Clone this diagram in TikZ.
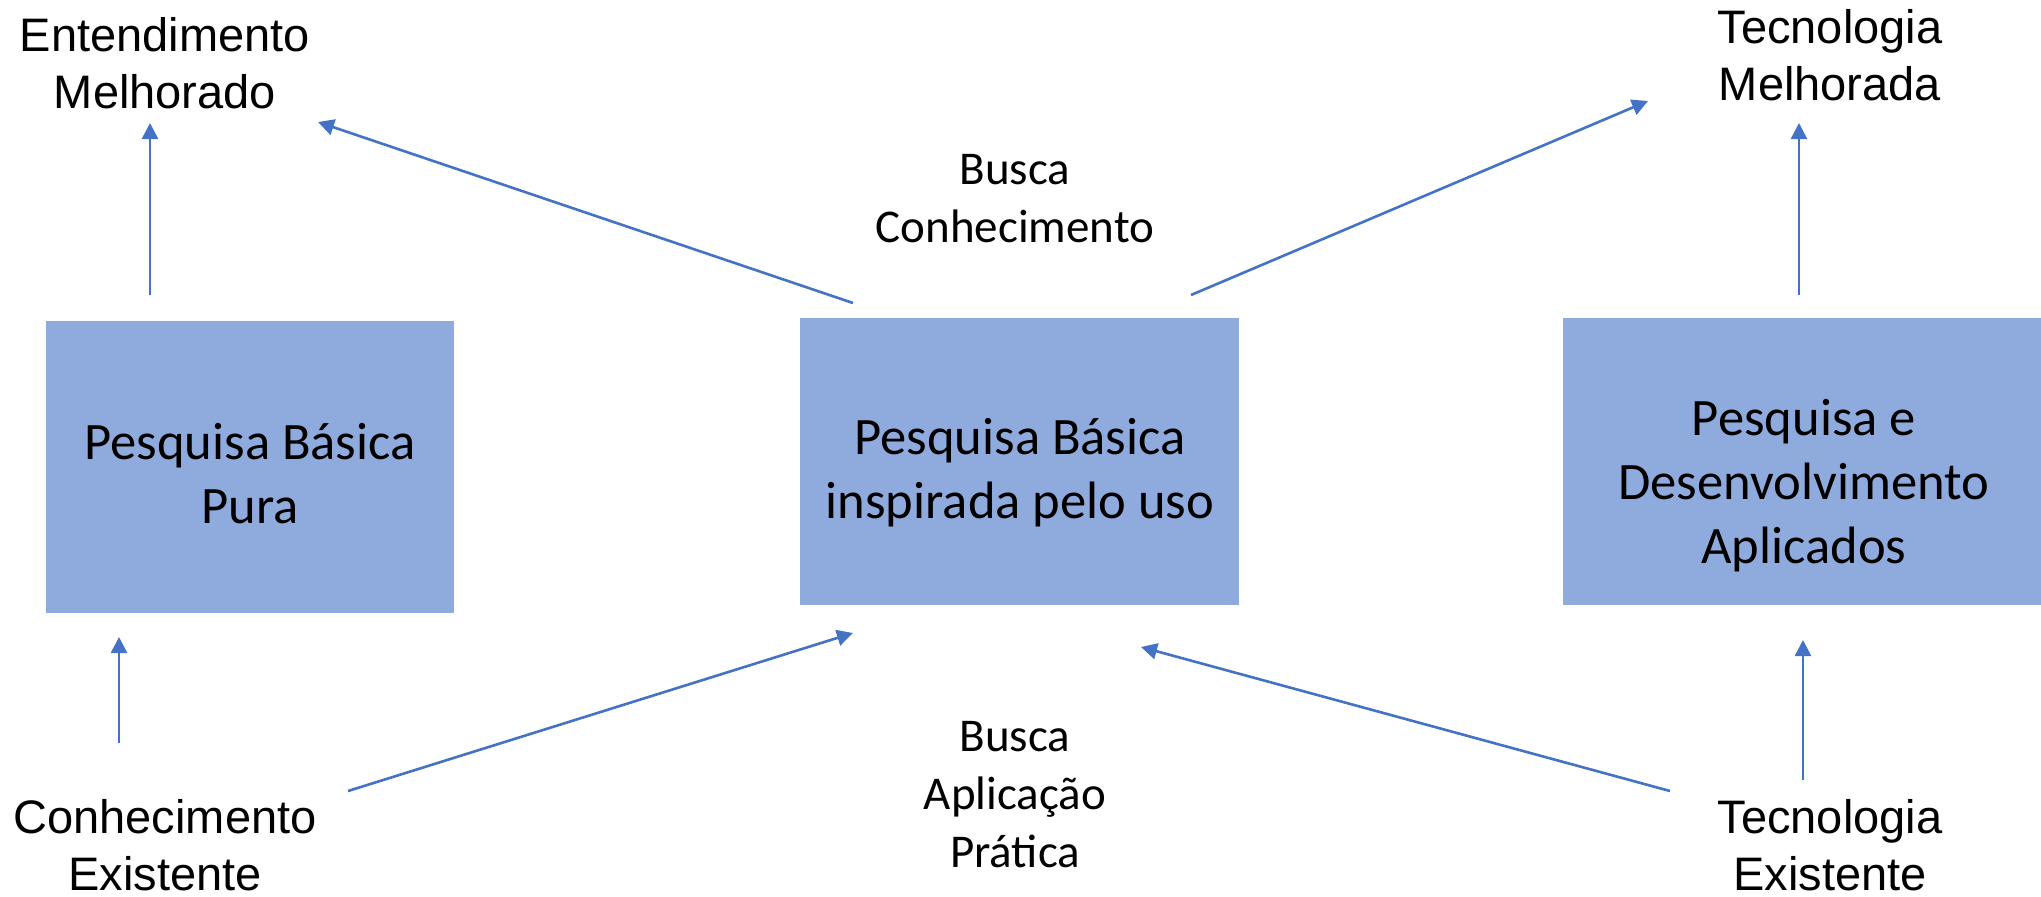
\documentclass[tikz,border=0pt]{standalone}
\usepackage{fontspec}
\newfontfamily\arialf{Liberation Sans}
\newfontfamily\calibf{Carlito}
\usetikzlibrary{arrows.meta}
\definecolor{boxblue}{HTML}{8FAADC}
\definecolor{arrowblue}{HTML}{4472C4}
\begin{document}
\begin{tikzpicture}[x=0.5pt,y=-0.5pt,
  box/.style={draw=none, fill=boxblue, rectangle, inner sep=0pt, outer sep=0pt},
  boxtext/.style={align=center, inner sep=0pt, anchor=base, font=\calibf\fontsize{26.3pt}{32pt}\selectfont},
  outer/.style={align=center, inner sep=0pt, anchor=base, font=\arialf\fontsize{23.5pt}{28.5pt}\selectfont},
  midlabel/.style={align=center, inner sep=0pt, anchor=base, font=\calibf\fontsize{23.5pt}{29pt}\selectfont},
  link/.style={draw=arrowblue, line width=1.3pt, -{Triangle[length=8pt,width=8pt]}}]
\useasboundingbox (0,0) rectangle (2041,896);
% boxes
\node[box, minimum width=204pt, minimum height=146pt] (b1) at (250,467) {};
\node[box, minimum width=219.5pt, minimum height=143.5pt] (b2) at (1019.5,461.5) {};
\node[box, minimum width=241pt, minimum height=143.5pt] (b3) at (1804,461.5) {};
% box texts (anchored at the baseline of the last line)
\node[boxtext] (t1) at (250,523.5) {Pesquisa Básica\\Pura};
\node[boxtext] (t2) at (1020,518) {Pesquisa Básica\\inspirada pelo uso};
\node[boxtext] (t3) at (1804,563) {Pesquisa e\\Desenvolvimento\\Aplicados};
% outer labels
\node[outer] (em) at (165,108) {Entendimento\\Melhorado};
\node[outer] (tm) at (1830,100) {Tecnologia\\Melhorada};
\node[outer] (ce) at (165,890) {Conhecimento\\Existente};
\node[outer] (te) at (1830,890) {Tecnologia\\Existente};
% middle labels
\node[midlabel] (bc) at (1015,242) {Busca\\Conhecimento};
\node[midlabel] (ba) at (1015,867) {Busca\\Aplicação\\Prática};
% arrow end points
\coordinate (a1s) at (150,295);  \coordinate (a1e) at (150,123);
\coordinate (a2s) at (853,303);  \coordinate (a2e) at (318,122);
\coordinate (a3s) at (1191,295); \coordinate (a3e) at (1648,101);
\coordinate (a4s) at (1799,295); \coordinate (a4e) at (1799,123);
\coordinate (a5s) at (119,743);  \coordinate (a5e) at (119,637);
\coordinate (a6s) at (348,791);  \coordinate (a6e) at (853,633);
\coordinate (a7s) at (1670,791); \coordinate (a7e) at (1141,647);
\coordinate (a8s) at (1803,780); \coordinate (a8e) at (1803,640);
% arrows
\draw[link] (a1s) -- (a1e);
\draw[link] (a2s) -- (a2e);
\draw[link] (a3s) -- (a3e);
\draw[link] (a4s) -- (a4e);
\draw[link] (a5s) -- (a5e);
\draw[link] (a6s) -- (a6e);
\draw[link] (a7s) -- (a7e);
\draw[link] (a8s) -- (a8e);
\end{tikzpicture}
\end{document}
